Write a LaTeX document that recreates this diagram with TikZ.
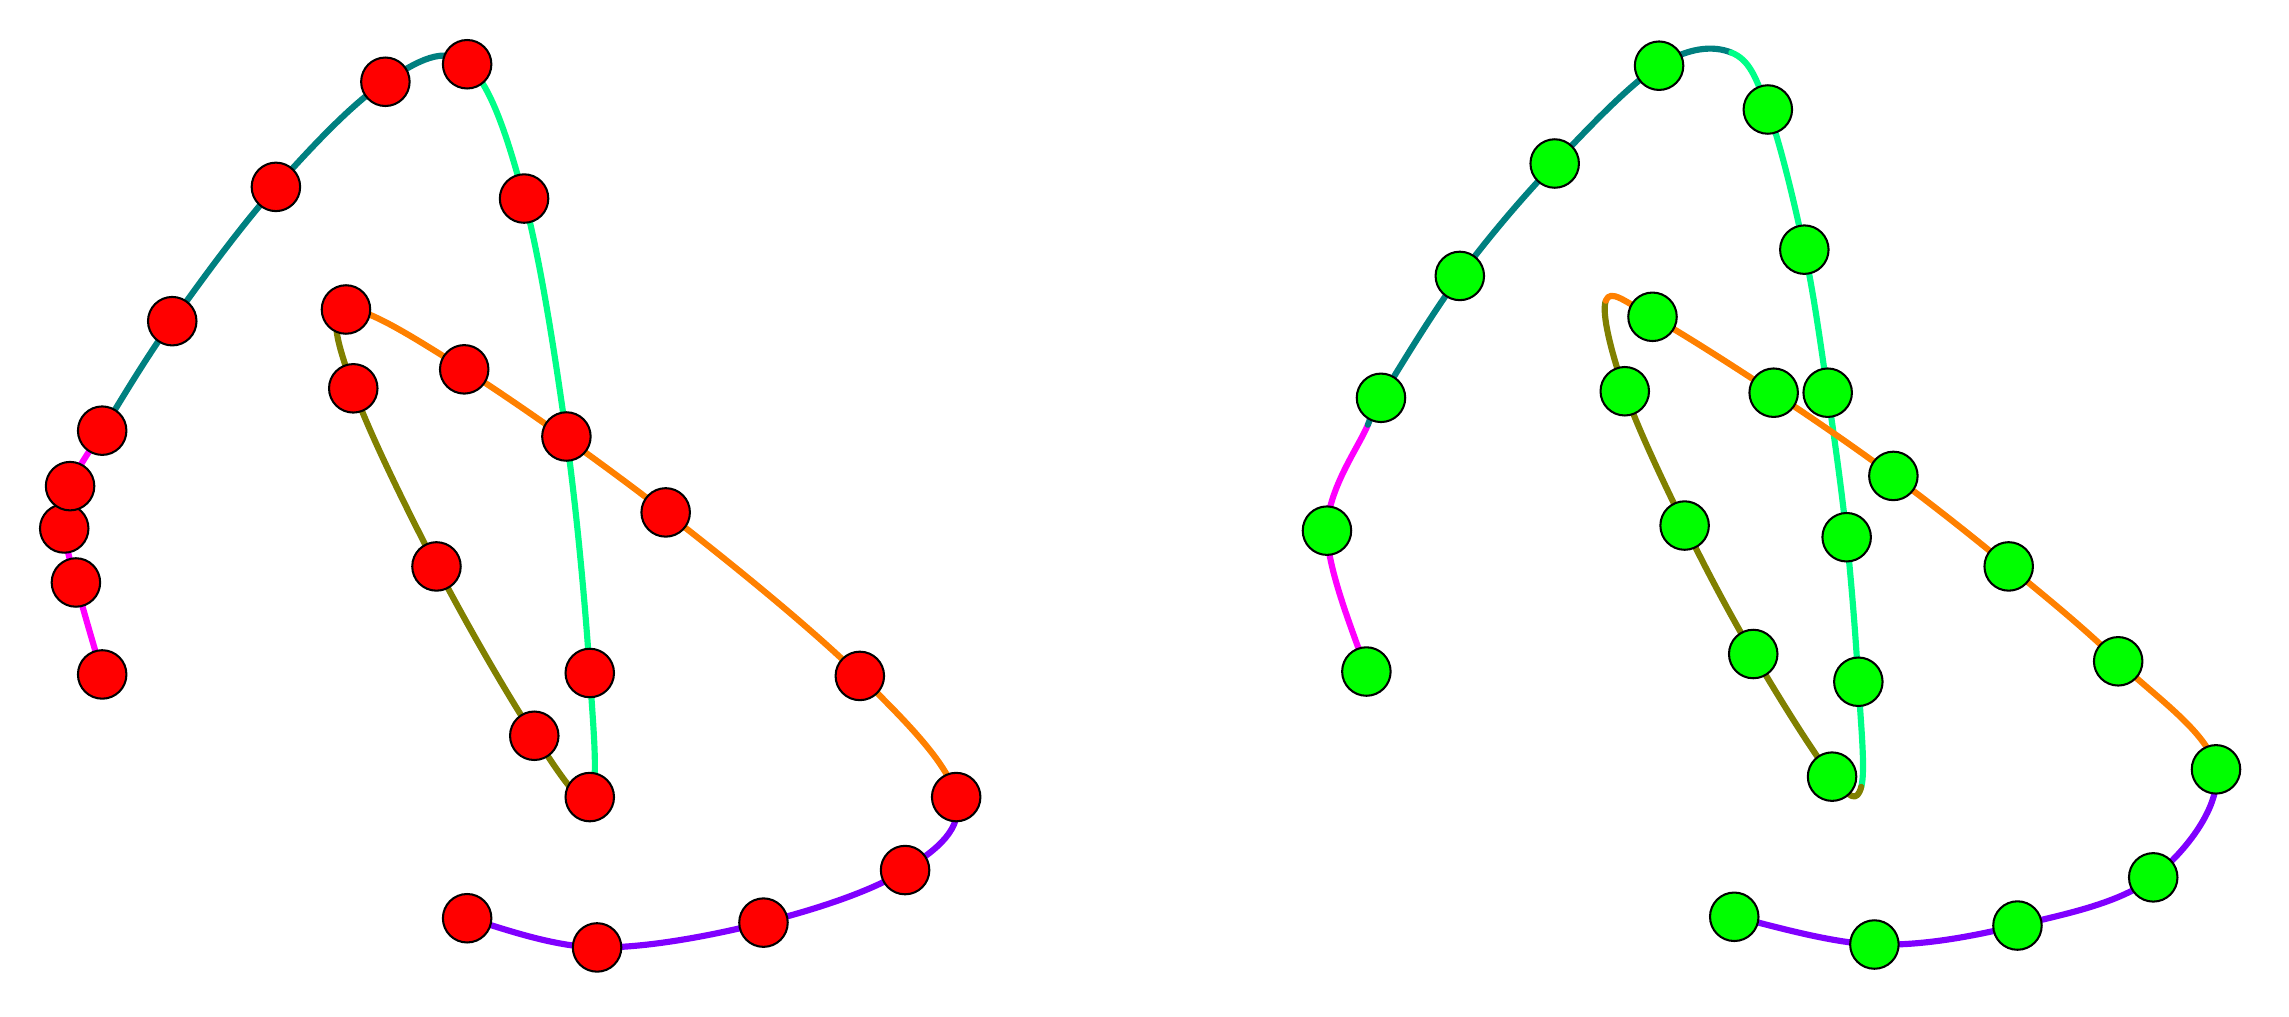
\documentclass[tikz,border=0pt]{standalone}
\usetikzlibrary{backgrounds,calc}
\definecolor{cmag}{RGB}{255,0,255}
\definecolor{cteal}{RGB}{0,128,128}
\definecolor{cspring}{RGB}{0,255,136}
\definecolor{colive}{RGB}{128,128,0}
\definecolor{corange}{RGB}{255,128,0}
\definecolor{cpurple}{RGB}{128,0,255}
\definecolor{cred}{RGB}{255,0,0}
\definecolor{clime}{RGB}{0,255,0}
\tikzset{
  dotbase/.style={circle, draw=black, line width=0.4pt, minimum size=0.332cm, inner sep=0pt},
  dotL/.style={dotbase, fill=cred},
  dotR/.style={dotbase, fill=clime},
  seg/.style={line width=1.2pt, line cap=round, line join=round}
}
\def\crk{0.1667}
% one Catmull-Rom piece from #3 to #4 (neighbours #2 and #5), colour #1
\newcommand\crp[5]{\draw[seg,#1] (#3.center) .. controls ($(#3)+\crk*(#4)-\crk*(#2)$) and ($(#4)-\crk*(#5)+\crk*(#3)$) .. (#4.center);}
\begin{document}
\begin{tikzpicture}[x=0.01cm,y=-0.01cm]
\useasboundingbox (0,0) rectangle (1568,696);
% ---------- left panel ----------
\node[dotL] (L1) at (70,462) {};
\node[dotL] (L2) at (52,399) {};
\node[dotL] (L3) at (44,362) {};
\node[dotL] (L4) at (48,333) {};
\node[dotL] (L5) at (70,295) {};
\node[dotL] (L6) at (118,220) {};
\node[dotL] (L7) at (189,128) {};
\node[dotL] (L8) at (264,56) {};
\node[dotL] (L9) at (320,44) {};
\node[dotL] (L10) at (359,136) {};
\node[dotL] (L11) at (388,299) {};
\node[dotL] (L12) at (404,461) {};
\node[dotL] (L13) at (404,546) {};
\node[dotL] (L14) at (366,504) {};
\node[dotL] (L15) at (299,388) {};
\node[dotL] (L16) at (242,266) {};
\node[dotL] (L17) at (237,212) {};
\node[dotL] (L18) at (318,253) {};
\node[dotL] (L19) at (456,351) {};
\node[dotL] (L20) at (589,463) {};
\node[dotL] (L21) at (655,546) {};
\node[dotL] (L22) at (620,596) {};
\node[dotL] (L23) at (523,632) {};
\node[dotL] (L24) at (409,649) {};
\node[dotL] (L25) at (320,629) {};
% ---------- right panel ----------
\node[dotR] (R1) at (936,460) {};
\node[dotR] (R2) at (909,363.5) {};
\node[dotR] (R3) at (946,272.5) {};
\node[dotR] (R4) at (1000,189) {};
\node[dotR] (R5) at (1065,112) {};
\node[dotR] (R6) at (1136.5,45) {};
\node[dotR] (R7) at (1211,75) {};
\node[dotR] (R8) at (1236,171) {};
\node[dotR] (R9) at (1252,269) {};
\node[dotR] (R10) at (1265,368) {};
\node[dotR] (R11) at (1273,467) {};
\node[dotR] (R12) at (1255,532) {};
\node[dotR] (R13) at (1201,448) {};
\node[dotR] (R14) at (1154,360) {};
\node[dotR] (R15) at (1113,268) {};
\node[dotR] (R16) at (1132,217) {};
\node[dotR] (R17) at (1215,269) {};
\node[dotR] (R18) at (1297,326) {};
\node[dotR] (R19) at (1376,388) {};
\node[dotR] (R20) at (1451,453) {};
\node[dotR] (R21) at (1518,527) {};
\node[dotR] (R22) at (1475,601) {};
\node[dotR] (R23) at (1382,634) {};
\node[dotR] (R24) at (1284,647) {};
\node[dotR] (R25) at (1188,628) {};
\coordinate (J1) at (937,291);
\coordinate (J2) at (1186,36);
\coordinate (J3) at (1275,539);
\coordinate (J4) at (1100,206);
\begin{scope}[on background layer]
  % left curve
  \crp{cmag}{L1}{L1}{L2}{L3}
  \crp{cmag}{L1}{L2}{L3}{L4}
  \crp{cmag}{L2}{L3}{L4}{L5}
  \crp{cmag}{L3}{L4}{L5}{L6}
  \crp{cteal}{L4}{L5}{L6}{L7}
  \crp{cteal}{L5}{L6}{L7}{L8}
  \crp{cteal}{L6}{L7}{L8}{L9}
  \crp{cteal}{L7}{L8}{L9}{L10}
  \crp{cspring}{L8}{L9}{L10}{L11}
  \crp{cspring}{L9}{L10}{L11}{L12}
  \crp{cspring}{L10}{L11}{L12}{L13}
  \crp{cspring}{L11}{L12}{L13}{L14}
  \crp{colive}{L12}{L13}{L14}{L15}
  \crp{colive}{L13}{L14}{L15}{L16}
  \crp{colive}{L14}{L15}{L16}{L17}
  \crp{colive}{L15}{L16}{L17}{L18}
  \crp{corange}{L16}{L17}{L18}{L19}
  \crp{corange}{L17}{L18}{L19}{L20}
  \crp{corange}{L18}{L19}{L20}{L21}
  \crp{corange}{L19}{L20}{L21}{L22}
  \crp{cpurple}{L20}{L21}{L22}{L23}
  \crp{cpurple}{L21}{L22}{L23}{L24}
  \crp{cpurple}{L22}{L23}{L24}{L25}
  \crp{cpurple}{L23}{L24}{L25}{L25}
  % right curve
  \crp{cmag}{R1}{R1}{R2}{J1}
  \crp{cmag}{R1}{R2}{J1}{R3}
  \crp{cteal}{R2}{J1}{R3}{R4}
  \crp{cteal}{J1}{R3}{R4}{R5}
  \crp{cteal}{R3}{R4}{R5}{R6}
  \crp{cteal}{R4}{R5}{R6}{J2}
  \crp{cteal}{R5}{R6}{J2}{R7}
  \crp{cspring}{R6}{J2}{R7}{R8}
  \crp{cspring}{J2}{R7}{R8}{R9}
  \crp{cspring}{R7}{R8}{R9}{R10}
  \crp{cspring}{R8}{R9}{R10}{R11}
  \crp{cspring}{R9}{R10}{R11}{J3}
  \crp{cspring}{R10}{R11}{J3}{R12}
  \crp{colive}{R11}{J3}{R12}{R13}
  \crp{colive}{J3}{R12}{R13}{R14}
  \crp{colive}{R12}{R13}{R14}{R15}
  \crp{colive}{R13}{R14}{R15}{J4}
  \crp{colive}{R14}{R15}{J4}{R16}
  \crp{corange}{R15}{J4}{R16}{R17}
  \crp{corange}{J4}{R16}{R17}{R18}
  \crp{corange}{R16}{R17}{R18}{R19}
  \crp{corange}{R17}{R18}{R19}{R20}
  \crp{corange}{R18}{R19}{R20}{R21}
  \crp{corange}{R19}{R20}{R21}{R22}
  \crp{cpurple}{R20}{R21}{R22}{R23}
  \crp{cpurple}{R21}{R22}{R23}{R24}
  \crp{cpurple}{R22}{R23}{R24}{R25}
  \crp{cpurple}{R23}{R24}{R25}{R25}
\end{scope}
\end{tikzpicture}
\end{document}
